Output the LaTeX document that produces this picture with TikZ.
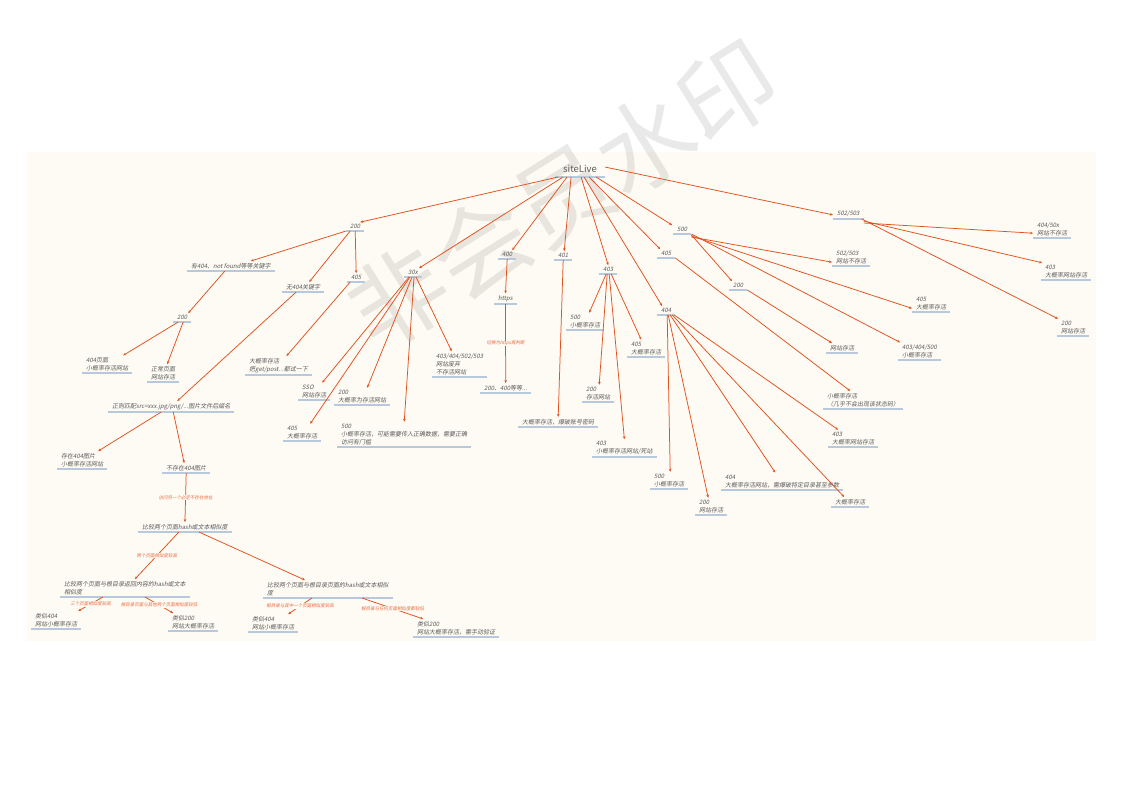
\documentclass[tikz,border=0pt]{standalone}
\usepackage{fontspec}
\setmainfont{Noto Sans CJK SC}
\newfontfamily\cjk{Noto Sans CJK SC}[FakeSlant=0.2]
\usetikzlibrary{arrows.meta}
\definecolor{cream}{HTML}{FDFBF4}
\definecolor{txt}{HTML}{5A5A5A}
\definecolor{arrc}{HTML}{E2501C}
\definecolor{ulc}{HTML}{B9C9DD}
\definecolor{lblc}{HTML}{EA6A3F}
\begin{document}
\begin{tikzpicture}[x=1pt,y=-1pt,
  nd/.style={font=\cjk\fontsize{6}{8}\selectfont, text=txt, align=left, inner xsep=4pt, inner ysep=2pt, anchor=south west},
  rootnd/.style={font=\fontsize{9.5}{11}\selectfont, text=txt, inner xsep=8pt, inner ysep=4pt, anchor=south west},
  arr/.style={draw=arrc, line width=0.75pt, -{Stealth[length=3pt,width=2.6pt]}},
  ul/.style={draw=ulc, line width=1.2pt},
  lbl/.style={font=\cjk\fontsize{4.5}{5}\selectfont, text=lblc, fill=cream, inner sep=0.5pt},
  wm/.style={font=\fontsize{97}{97}\selectfont, text=black, opacity=0.085}]
\useasboundingbox (0,0) rectangle (1122,793);
\fill[white] (0,0) rectangle (1122,793);
\fill[cream] (27,152) rectangle (1096,641);
\node[wm, rotate=32] (wmark) at (563,195) {非会员水印};

% root
\node[rootnd] (root) at (555,177) {siteLive};
% level 1
\node[nd] (n200) at (346,231) {200};
\node[nd] (n30x) at (404,277) {30x};
\node[nd] (n400) at (498,259) {400};
\node[nd] (n401) at (554,260) {401};
\node[nd] (n403) at (599,274) {403};
\node[nd] (n404) at (657,315) {404};
\node[nd] (n405) at (657,258) {405};
\node[nd] (n500) at (673,234) {500};
\node[nd] (n502) at (833,219) {502/503};
% under 200
\node[nd] (kw) at (187,271) {有404、not found等等关键字};
\node[nd] (nokw) at (282,292) {无404关键字};
\node[nd] (a405) at (347,282) {405};
\node[nd] (kw200) at (173,322) {200};
\node[nd] (p404) at (82,373) {404页面\\小概率存活网站};
\node[nd] (pok) at (147,382) {正常页面\\网站存活};
\node[nd] (regex) at (108,412) {正则匹配src=xxx.jpg/png/...图片文件后缀名};
\node[nd] (img404) at (57,469) {存在404图片\\小概率存活网站};
\node[nd] (noimg) at (162,473) {不存在404图片};
\node[nd] (cmp) at (138,532) {比较两个页面hash或文本相似度};
\node[nd] (cmpL) at (60,597) {比较两个页面与根目录返回内容的hash或文本\\相似度};
\node[nd] (cmpR) at (263,598) {比较两个页面与根目录页面的hash或文本相似\\度};
\node[nd] (l404) at (31,629) {类似404\\网站小概率存活};
\node[nd] (l200) at (168,631) {类似200\\网站大概率存活};
\node[nd] (r404) at (248,632) {类似404\\网站小概率存活};
\node[nd] (r200) at (413,637) {类似200\\网站大概率存活，需手动验证};
\node[nd] (getpost) at (245,375) {大概率存活\\把get/post...都试一下};
% under 30x
\node[nd] (sso) at (298,400) {SSO\\网站存活};
\node[nd] (x405) at (283,441) {405\\大概率存活};
\node[nd] (x200) at (334,405) {200\\大概率为存活网站};
\node[nd] (x500) at (337,447) {500\\小概率存活，可能需要传入正确数据，需要正确\\访问有门槛};
\node[nd] (x403) at (432,377) {403/404/502/503\\网站废弃\\不存活网站};
% under 400 / 401
\node[nd] (https) at (494,304) {https};
\node[nd] (h200) at (480,393) {200、400等等...};
\node[nd] (brute) at (518,427) {大概率存活，爆破账号密码};
% under 403
\node[nd] (f500) at (566,330) {500\\小概率存活};
\node[nd] (f405) at (627,357) {405\\大概率存活};
\node[nd] (f200) at (582,402) {200\\存活网站};
\node[nd] (f403) at (592,457) {403\\小概率存活网站/死站};
% under 404
\node[nd] (g500) at (650,489) {500\\小概率存活};
\node[nd] (g200) at (695,515) {200\\网站存活};
\node[nd] (g404) at (721,490) {404\\大概率存活网站，需爆破特定目录甚至参数};
\node[nd] (galive) at (831,507) {大概率存活};
\node[nd] (g403) at (828,447) {403\\大概率网站存活};
% under 405
\node[nd] (h405) at (823,409) {小概率存活\\（几乎不会出现该状态码）};
% under 500
\node[nd] (i200) at (729,290) {200};
\node[nd] (i502) at (832,266) {502/503\\网站不存活};
\node[nd] (i405) at (912,312) {405\\大概率存活};
\node[nd] (i403) at (898,360) {403/404/500\\小概率存活};
\node[nd] (i200a) at (826,353) {网站存活};
% under 502/503
\node[nd] (j404) at (1033,238) {404/50x\\网站不存活};
\node[nd] (j403) at (1041,280) {403\\大概率网站存活};
\node[nd] (j200) at (1057,336) {200\\网站存活};

% underlines
\foreach \n in {root,n200,n30x,n400,n401,n403,n404,n405,n500,n502,kw,nokw,a405,kw200,p404,pok,regex,img404,noimg,cmp,cmpL,cmpR,l404,l200,r404,r200,getpost,sso,x405,x200,x500,x403,https,h200,brute,f500,f405,f200,f403,g500,g200,g404,galive,g403,h405,i200,i502,i405,i403,i200a,j404,j403,j200}
  \draw[ul] (\n.south west) -- (\n.south east);

% connectors from root
\draw[arr] ([xshift=-22pt]root.south) -- ([xshift=5pt]n200.north);
\draw[arr] ([xshift=-17pt]root.south) -- ([xshift=6pt]n30x.north);
\draw[arr] ([xshift=-13pt]root.south) -- ([xshift=5pt]n400.north);
\draw[arr] ([xshift=-9pt]root.south) -- ([xshift=1pt]n401.north);
\draw[arr] ([xshift=1pt]root.south) -- (n403.north);
\draw[arr] ([xshift=4pt]root.south) -- ([xshift=-4pt]n404.north);
\draw[arr] ([xshift=9pt]root.south) -- ([xshift=-6pt]n405.north);
\draw[arr] ([xshift=16pt]root.south) -- ([xshift=-10pt]n500.north);
\draw[arr] ([yshift=2pt]root.east) -- ([yshift=-1pt]n502.west);
% under 200
\draw[arr] (n200.south west) -- ([xshift=20pt]kw.north);
\draw[arr] ([xshift=-5pt]n200.south) -- ([xshift=6pt]nokw.north);
\draw[arr] (n200.south) -- (a405.north);
\draw[arr] ([xshift=-6pt]kw.south) -- ([xshift=6pt]kw200.north);
\draw[arr] ([xshift=-4pt]kw200.south) -- ([xshift=16pt]p404.north);
\draw[arr] ([xshift=1pt]kw200.south) -- ([xshift=4pt]pok.north);
\draw[arr] ([xshift=-7pt]nokw.south) -- ([xshift=6pt]regex.north);
\draw[arr] ([xshift=-10pt]regex.south) -- ([xshift=16pt]img404.north);
\draw[arr] ([xshift=2pt]regex.south) -- ([xshift=-2pt]noimg.north);
\draw[arr] (noimg.south) -- node[lbl]{访问另一个必定不存在地址} (cmp.north);
\draw[arr] ([xshift=-6pt]cmp.south) -- node[lbl]{两个页面相似度较高} ([xshift=10pt]cmpL.north);
\draw[arr] ([xshift=14pt]cmp.south) -- ([xshift=-23pt]cmpR.north);
\draw[arr] ([xshift=-22pt]cmpL.south) -- node[lbl]{三个页面相似度较高} ([xshift=22pt]l404.north);
\draw[arr] ([xshift=20pt]cmpL.south) -- node[lbl]{根目录页面与其他两个页面相似度较低} ([xshift=-20pt]l200.north);
\draw[arr] ([xshift=-16pt]cmpR.south) -- node[lbl]{根目录与其中一个页面相似度较高} ([xshift=15pt]r404.north);
\draw[arr] ([xshift=34pt]cmpR.south) -- node[lbl]{根目录与任何页面相似度都较低} ([xshift=-33pt]r200.north);
\draw[arr] ([xshift=-6pt]a405.south) -- ([xshift=8pt]getpost.north);
% under 30x
\draw[arr] ([xshift=-4pt]n30x.south) -- ([xshift=8pt]sso.north);
\draw[arr] ([xshift=-3pt]n30x.south) -- ([xshift=8pt]x405.north);
\draw[arr] ([xshift=-1pt]n30x.south) -- ([xshift=5pt]x200.north);
\draw[arr] ([xshift=1pt]n30x.south) -- (x500.north);
\draw[arr] ([xshift=3pt]n30x.south) -- ([xshift=-8pt]x403.north);
% under 400 / 401
\draw[arr] (n400.south) -- (https.north);
\draw[arr] (https.south) -- node[lbl]{切换为https再判断} (h200.north);
\draw[arr] (n401.south) -- (brute.north);
% under 403
\draw[arr] ([xshift=-2pt]n403.south) -- ([xshift=4pt]f500.north);
\draw[arr] ([xshift=3pt]n403.south) -- ([xshift=-5pt]f405.north);
\draw[arr] ([xshift=-1pt]n403.south) -- ([xshift=1pt]f200.north);
\draw[arr] ([xshift=1pt]n403.south) -- (f403.north);
% under 404
\draw[arr] ([xshift=1pt]n404.south) -- ([xshift=1pt]g500.north);
\draw[arr] ([xshift=2pt]n404.south) -- ([xshift=-3pt]g200.north);
\draw[arr] ([xshift=4pt]n404.south) -- ([xshift=-7pt]g404.north);
\draw[arr] ([xshift=6pt]n404.south) -- ([xshift=-6pt]galive.north);
\draw[arr] ([xshift=8pt]n404.south) -- ([xshift=-15pt]g403.north);
% under 405
\draw[arr] (n405.south east) -- ([xshift=-13pt]h405.north);
% under 500
\draw[arr] ([yshift=-1pt]n500.south east) -- ([xshift=3pt]i200.north west);
\draw[arr] ([yshift=-3pt]n500.south east) -- ([yshift=-5pt]i502.west);
\draw[arr] ([yshift=-2pt]n500.south east) -- ([yshift=-5pt]i405.west);
\draw[arr] (n500.south east) -- ([xshift=2pt]i403.north west);
\draw[arr] (i200.south east) -- ([xshift=6pt]i200a.north west);
% under 502/503
\draw[arr] ([yshift=-4pt]n502.south east) -- ([yshift=-4pt]j404.west);
\draw[arr] ([yshift=-2pt]n502.south east) -- ([xshift=1pt]j403.north west);
\draw[arr] ([xshift=-2pt]n502.south east) -- ([xshift=1pt]j200.north west);
\end{tikzpicture}
\end{document}
